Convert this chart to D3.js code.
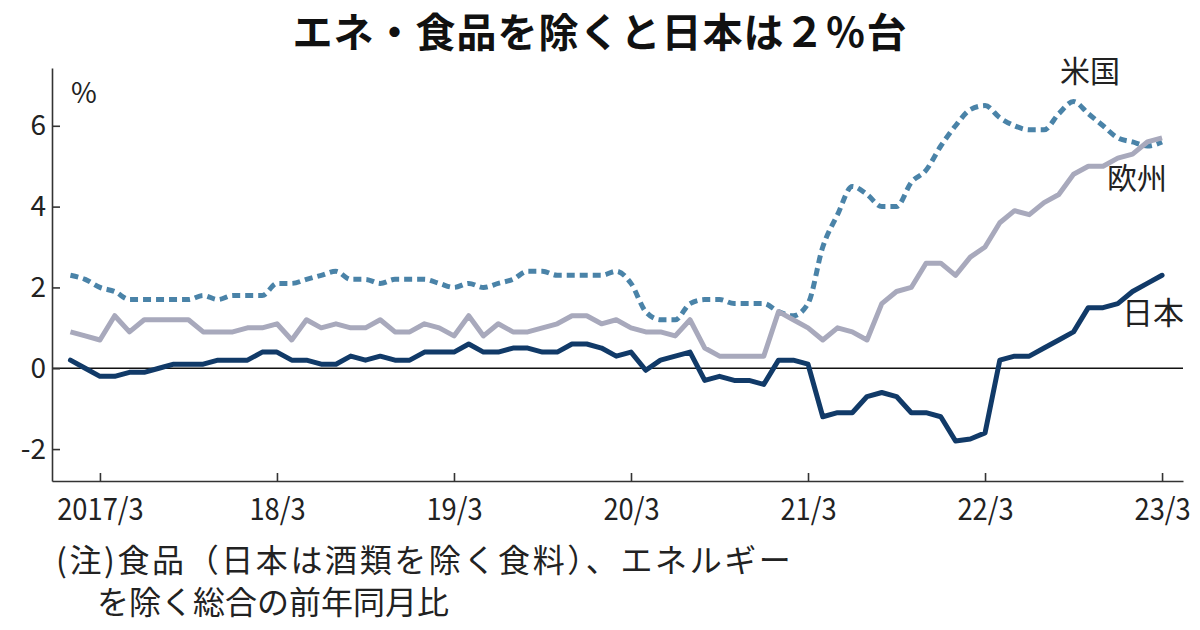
<!DOCTYPE html>
<html>
<head>
<meta charset="utf-8">
<script src="https://cdn.jsdelivr.net/npm/d3@7"></script>
<style>
  html, body { margin: 0; padding: 0; background: #fff; }
  svg { display: block; }
  text { font-family: "Noto Sans CJK JP", "Noto Sans", sans-serif; fill: #222; }
</style>
</head>
<body>
<svg id="chart" width="1200" height="630"></svg>
<script>
// ---- data (monthly, 2017/1 .. 2023/3) ----
const titleText = "エネ・食品を除くと日本は２％台";
const noteLines = ["(注)食品（日本は酒類を除く食料）、エネルギー", "を除く総合の前年同月比"];
const seriesNames = ["米国", "欧州", "日本"];
const xTickIndex = [2, 14, 26, 38, 50, 62, 74];
const xTickLabels = ["2017/3", "18/3", "19/3", "20/3", "21/3", "22/3", "23/3"];
const yTicks = [-2, 0, 2, 4, 6];

const japan = [
  0.2, 0.0, -0.2, -0.2, -0.1, -0.1, 0.0, 0.1, 0.1, 0.1, 0.2, 0.2,
  0.2, 0.4, 0.4, 0.2, 0.2, 0.1, 0.1, 0.3, 0.2, 0.3, 0.2, 0.2,
  0.4, 0.4, 0.4, 0.6, 0.4, 0.4, 0.5, 0.5, 0.4, 0.4, 0.6, 0.6,
  0.5, 0.3, 0.4, -0.05, 0.2, 0.3, 0.4, -0.3, -0.2, -0.3, -0.3, -0.4,
  0.2, 0.2, 0.1, -1.2, -1.1, -1.1, -0.7, -0.6, -0.7, -1.1, -1.1, -1.2,
  -1.8, -1.75, -1.6, 0.2, 0.3, 0.3, 0.5, 0.7, 0.9, 1.5, 1.5, 1.6,
  1.9, 2.1, 2.3
];
const europe = [
  0.9, 0.8, 0.7, 1.3, 0.9, 1.2, 1.2, 1.2, 1.2, 0.9, 0.9, 0.9,
  1.0, 1.0, 1.1, 0.7, 1.2, 1.0, 1.1, 1.0, 1.0, 1.2, 0.9, 0.9,
  1.1, 1.0, 0.8, 1.3, 0.8, 1.1, 0.9, 0.9, 1.0, 1.1, 1.3, 1.3,
  1.1, 1.2, 1.0, 0.9, 0.9, 0.8, 1.2, 0.5, 0.3, 0.3, 0.3, 0.3,
  1.4, 1.2, 1.0, 0.7, 1.0, 0.9, 0.7, 1.6, 1.9, 2.0, 2.6, 2.6,
  2.3, 2.75, 3.0, 3.6, 3.9, 3.8, 4.1, 4.3, 4.8, 5.0, 5.0, 5.2,
  5.3, 5.6, 5.7
];
const us = [
  2.3, 2.2, 2.0, 1.9, 1.7, 1.7, 1.7, 1.7, 1.7, 1.8, 1.7, 1.8,
  1.8, 1.8, 2.1, 2.1, 2.2, 2.3, 2.4, 2.2, 2.2, 2.1, 2.2, 2.2,
  2.2, 2.1, 2.0, 2.1, 2.0, 2.1, 2.2, 2.4, 2.4, 2.3, 2.3, 2.3,
  2.3, 2.4, 2.1, 1.4, 1.2, 1.2, 1.6, 1.7, 1.7, 1.6, 1.6, 1.6,
  1.4, 1.3, 1.6, 3.0, 3.8, 4.5, 4.3, 4.0, 4.0, 4.6, 4.9, 5.5,
  6.0, 6.4, 6.5, 6.2, 6.0, 5.9, 5.9, 6.3, 6.6, 6.3, 6.0, 5.7,
  5.6, 5.5, 5.6
];

// ---- layout ----
const svg = d3.select("#chart");
svg.append("rect").attr("width", 1200).attr("height", 630).attr("fill", "#fff");

const x = d3.scaleLinear().domain([-1.25, 75.42]).range([52, 1183]);
const y = d3.scaleLinear().domain([-2.79, 7.43]).range([481, 68]);

// title
svg.append("text")
  .attr("x", 600).attr("y", 47)
  .attr("text-anchor", "middle")
  .attr("font-size", 40).attr("font-weight", 700)
  .attr("letter-spacing", 1)
  .style("fill", "#111")
  .text(titleText);

// zero line
svg.append("line")
  .attr("x1", x.range()[0]).attr("x2", x.range()[1])
  .attr("y1", y(0)).attr("y2", y(0))
  .attr("stroke", "#111").attr("stroke-width", 1.3);

// y axis
const yAxis = svg.append("g")
  .attr("transform", `translate(${x.range()[0]},0)`)
  .call(d3.axisLeft(y).tickValues(yTicks).tickSizeInner(-8).tickSizeOuter(0).tickPadding(6)
    .tickFormat(d => d));
yAxis.select(".domain").attr("stroke", "#333").attr("stroke-width", 1.6);
yAxis.selectAll(".tick line").attr("stroke", "#333").attr("stroke-width", 1.6);
yAxis.selectAll(".tick text").attr("font-size", 28).attr("font-family", "Noto Sans CJK JP").style("fill", "#222");

// x axis
const xAxis = svg.append("g")
  .attr("transform", `translate(0,${y.range()[0]})`)
  .call(d3.axisBottom(x).tickValues(xTickIndex).tickSizeInner(-8).tickSizeOuter(0)
    .tickFormat((d, i) => xTickLabels[i]));
xAxis.select(".domain").attr("stroke", "#333").attr("stroke-width", 1.6);
xAxis.selectAll(".tick line").attr("stroke", "#333").attr("stroke-width", 1.6);
xAxis.selectAll(".tick text")
  .attr("y", 39).attr("dy", null)
  .attr("transform", "scale(0.91,1)")
  .attr("font-size", 30).attr("font-family", "Noto Sans CJK JP").style("fill", "#222");

// unit
svg.append("text").attr("x", 71).attr("y", 103).attr("font-size", 28).text("%");

// lines
const line = d3.line().x((d, i) => x(i)).y(d => y(d));
const smooth = d3.line().x((d, i) => x(i)).y(d => y(d)).curve(d3.curveMonotoneX);

svg.append("path").datum(us)
  .attr("d", smooth).attr("fill", "none")
  .attr("stroke", "#4a83a8").attr("stroke-width", 5)
  .attr("stroke-dasharray", "8,5");

svg.append("path").datum(europe)
  .attr("d", line).attr("fill", "none")
  .attr("stroke", "#a8a9bc").attr("stroke-width", 5)
  .attr("stroke-linejoin", "round");

svg.append("path").datum(japan)
  .attr("d", line).attr("fill", "none")
  .attr("stroke", "#113a68").attr("stroke-width", 5)
  .attr("stroke-linejoin", "round").attr("stroke-linecap", "round");

// series labels
svg.append("text").attr("x", 1060).attr("y", 82).attr("font-size", 30).text(seriesNames[0]);
svg.append("text").attr("x", 1107).attr("y", 189).attr("font-size", 30).text(seriesNames[1]);
svg.append("text").attr("x", 1122).attr("y", 324).attr("font-size", 31).text(seriesNames[2]);

// note
svg.append("text").attr("x", 56).attr("y", 572).attr("font-size", 32).attr("letter-spacing", 2.6).text(noteLines[0]);
svg.append("text").attr("x", 97).attr("y", 614).attr("font-size", 32).text(noteLines[1]);
</script>
</body>
</html>
